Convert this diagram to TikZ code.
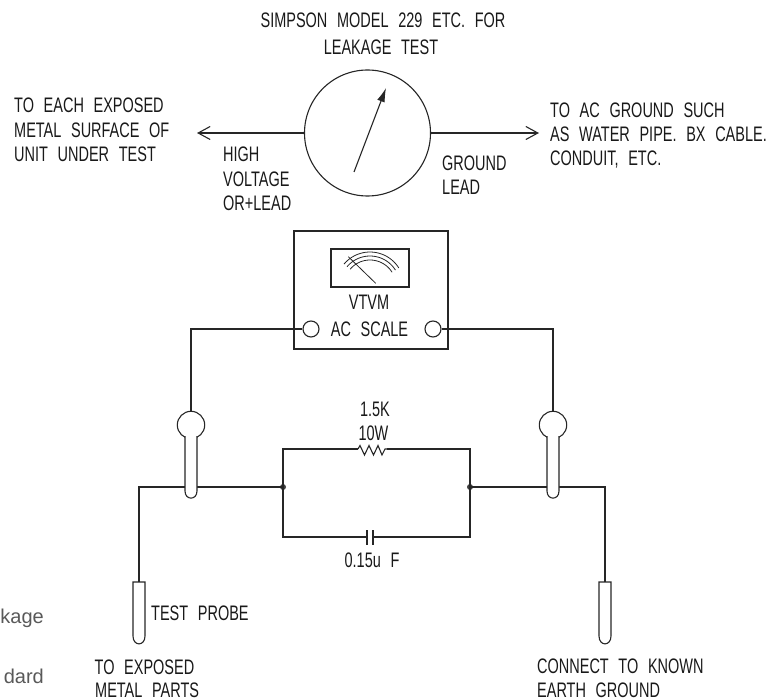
\documentclass[tikz,border=0pt]{standalone}
\usepackage{fontspec}
\usetikzlibrary{arrows.meta}
\newfontfamily\cadfont[FakeStretch=0.69,WordSpace=2.4]{Liberation Sans}
\newfontfamily\pagefont{Liberation Sans}
\tikzset{
  wire/.style={line width=1.1pt,draw=black!85},
  lbl/.style={font=\cadfont\fontsize{21}{21}\selectfont,inner sep=0pt,text=black!90},
  lblw/.style={lbl,anchor=base west},
  lblc/.style={lbl,anchor=base},
  pagetext/.style={font=\pagefont\fontsize{20}{20}\selectfont,inner sep=0pt,anchor=base east,text=black!65},
  open/.style={circle,wire,fill=white,inner sep=0pt,minimum size=#1},
  dotnode/.style={circle,fill=black!75,inner sep=0pt,minimum size=6pt},
  barb/.style={-{Straight Barb[length=12pt,width=13pt,line width=1.1pt]}}
}
\newcommand{\handle}[1]{%
  \fill[white] (#1-6,432) -- (#1-6,491) .. controls (#1-6,500.5) and (#1+6,500.5) .. (#1+6,491) -- (#1+6,432) -- cycle;
  \draw[wire] (#1-6,436) -- (#1-6,491) .. controls (#1-6,500.5) and (#1+6,500.5) .. (#1+6,491) -- (#1+6,436);
}
\newcommand{\probe}[1]{%
  \draw[wire] (#1-6,582) -- (#1+6,582) -- (#1+6,636) .. controls (#1+6,646.5) and (#1-6,646.5) .. (#1-6,636) -- cycle;
}
\begin{document}
\begin{tikzpicture}[x=1pt,y=-1pt]
\useasboundingbox (0,0) rectangle (779,700);
\clip (0,0) rectangle (779,700);
% left-edge cut text
\node[pagetext] (p1) at (44,623) {kage};
\node[pagetext] (p2) at (44,683) {dard};
% top meter
\node[open=126pt] (G) at (367.5,133) {};
\coordinate (GL) at (197,133);
\coordinate (GR) at (539,133);
\draw[wire,barb] (G.west) -- (GL);
\draw[wire,barb] (G.east) -- (GR);
\coordinate (N1) at (354,172);
\coordinate (N2) at (386,88);
\draw[wire,-{Latex[length=14pt,width=8pt]}] (N1) -- (N2);
% top labels
\node[lblc] (t1) at (383,27.5) {SIMPSON MODEL 229 ETC. FOR};
\node[lblc] (t2) at (381,55) {LEAKAGE TEST};
\node[lblw] (l1) at (14,113) {TO EACH EXPOSED};
\node[lblw] (l2) at (14,138) {METAL SURFACE OF};
\node[lblw] (l3) at (14,162) {UNIT UNDER TEST};
\node[lblw] (h1) at (223,162) {HIGH};
\node[lblw] (h2) at (223,187) {VOLTAGE};
\node[lblw] (h3) at (223,211) {OR+LEAD};
\node[lblw] (g1) at (442,171) {GROUND};
\node[lblw] (g2) at (442,195) {LEAD};
\node[lblw] (r1) at (550,118) {TO AC GROUND SUCH};
\node[lblw] (r2) at (550,142) {AS WATER PIPE. BX CABLE.};
\node[lblw] (r3) at (550,166) {CONDUIT, ETC.};
% VTVM
\node[wire,draw,minimum width=154pt,minimum height=118pt,inner sep=0pt] (V) at (371,290) {};
\node[wire,draw,minimum width=78pt,minimum height=38pt,inner sep=0pt] (S) at (370,268) {};
\foreach \r in {26,30,34}{
  \draw[line width=.8pt,black!85,shift={(370,286)}] plot[domain=32:140,samples=24,smooth] ({\r*cos(\x)},{-\r*sin(\x)});
}
\draw[line width=.8pt,black!85] (375.7,283.3) -- (348.3,256.7);
\node[lblc] (vt) at (369,310) {VTVM};
\node[lblc] (ac) at (369.5,337) {AC SCALE};
\node[open=16pt] (TL) at (311,329) {};
\node[open=16pt] (TR) at (433,329) {};
% wires to handles
\node[open=27.4pt] (BL) at (191,425) {};
\node[open=27.4pt] (BR) at (553,425) {};
\draw[wire] (TL.west) -| (BL.north);
\draw[wire] (TR.east) -| (BR.north);
% network
\node[dotnode] (JL) at (283,487) {};
\node[dotnode] (JR) at (470,487) {};
\coordinate (PL) at (139,582);
\coordinate (PR) at (605,582);
\draw[wire] (PL) |- (JL.center);
\draw[wire] (PR) |- (JR.center);
\coordinate (RA) at (358,449);
\coordinate (RB) at (387,449);
\coordinate (CA) at (367,537);
\coordinate (CB) at (373,537);
\draw[wire] (JL.center) |- (RA);
\draw[wire] (JR.center) |- (RB);
\draw[wire] (JL.center) |- (CA);
\draw[wire] (JR.center) |- (CB);
\draw[wire] (RA) -- (360,445.5) -- (364.5,455) -- (369,445.5) -- (373.5,455) -- (378,445.5) -- (382,455) -- (385,449) -- (RB);
\draw[wire] (367,530) -- (367,545);
\draw[wire] (373,530) -- (373,545);
\handle{191}
\handle{553}
\probe{139}
\probe{605}
\node[lblc] (a1) at (375,417) {1.5K};
\node[lblc] (a2) at (373.5,440) {10W};
\node[lblc] (a3) at (372,567) {0.15u F};
\node[lblw] (b1) at (151,620) {TEST PROBE};
\node[lblw] (b2) at (94.5,674.5) {TO EXPOSED};
\node[lblw] (b3) at (95,697.5) {METAL PARTS};
\node[lblw] (c1) at (537,673) {CONNECT TO KNOWN};
\node[lblw] (c2) at (537,697) {EARTH GROUND};
\end{tikzpicture}
\end{document}
